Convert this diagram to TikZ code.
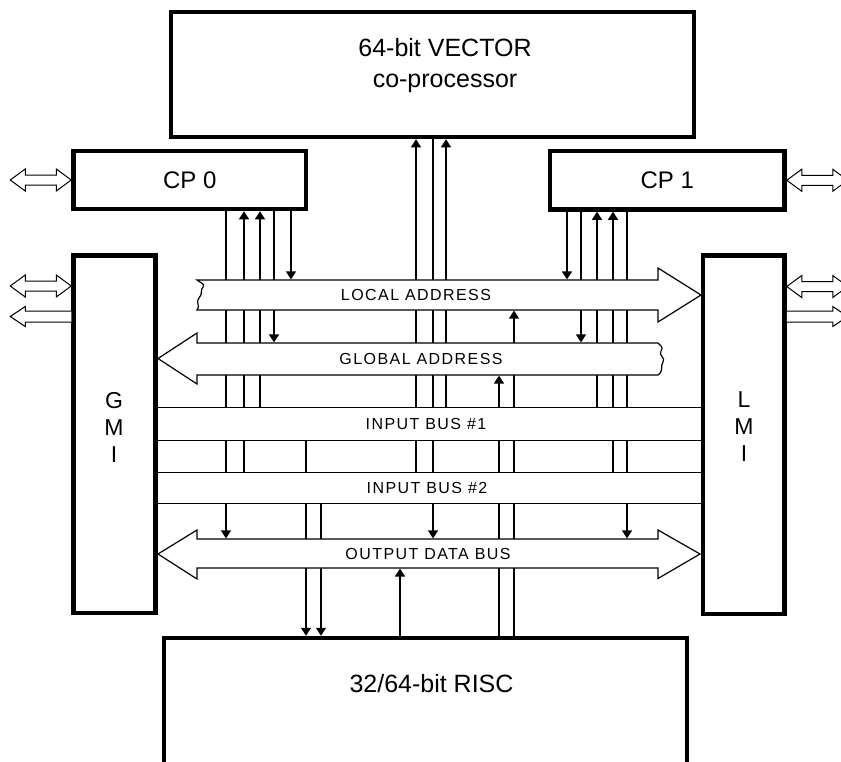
\documentclass[tikz,border=0pt]{standalone}
\usepackage{fontspec}
\setmainfont{Liberation Sans}
\usepackage{tikz}
\usetikzlibrary{arrows.meta, positioning, backgrounds}

\tikzset{
  blk/.style={draw, line width=4.5pt, inner sep=0pt, font=\fontsize{24}{28}\selectfont},
  busband/.style={inner sep=0pt, outer sep=0.6pt, font=\fontsize{16}{18}\selectfont\addfontfeature{LetterSpace=9}},
  busline/.style={line width=1.2pt, fill=white, line join=miter},
  wire/.style={line width=1.3pt},
  sig/.style={wire, -{Triangle[width=10pt,length=8pt]}},
  portline/.style={line width=1pt, fill=white},
  pics/biport/.style={code={
    \draw[portline] (0,0) -- (-15,-11) -- (-15,-5) -- (-46,-5) -- (-46,-11) -- (-61,0)
      -- (-46,11) -- (-46,5) -- (-15,5) -- (-15,11) -- cycle;}},
  pics/outport/.style={code={
    \draw[portline] (0,-5.5) -- (-46,-5.5) -- (-46,-10) -- (-61,0) -- (-46,10) -- (-46,5.5) -- (0,5.5);}},
}

\begin{document}
\begin{tikzpicture}[x=1pt, y=-1pt]
  \useasboundingbox (0,0) rectangle (841,761);

  % units
  \node[blk, minimum width=523pt, minimum height=125pt] (vector) at (432.5,74.5) {};
  \node[font=\fontsize{25}{31}\selectfont, align=center] (vectxt) at (445,66) {64-bit VECTOR\\co-processor};
  \node[blk, minimum width=232.5pt, minimum height=58pt] (cp0) at (189.75,180) {CP 0};
  \node[blk, minimum width=234.5pt, minimum height=58.5pt] (cp1) at (667.25,180.25) {CP 1};
  \node[blk, minimum width=82pt, minimum height=357.5pt] (gmi) at (114.5,434.25) {};
  \node[blk, minimum width=81.5pt, minimum height=358.5pt] (lmi) at (743.75,434.75) {};
  \node[font=\fontsize{23}{27}\selectfont, align=center] (gmitxt) at (114,427) {G\\M\\I};
  \node[font=\fontsize{23}{27}\selectfont, align=center] (lmitxt) at (744,427) {L\\M\\I};
  \node[blk, minimum width=523pt, minimum height=142pt] (risc) at (425.5,709) {};
  \node[font=\fontsize{25}{30}\selectfont, anchor=base] (risctxt) at (431.5,692) {32/64-bit RISC};

  % buses
  \node[busband, minimum height=30pt] (loc) at (416,295) {LOCAL ADDRESS};
  \node[busband, minimum height=32pt] (glob) at (421,359) {GLOBAL ADDRESS};
  \node[busband, minimum height=32pt] (in1) at (426,424) {INPUT BUS \#1};
  \node[busband, minimum height=30pt] (in2) at (427,488) {INPUT BUS \#2};
  \node[busband, minimum height=29pt] (out) at (428,553.5) {OUTPUT DATA BUS};

  % bus taps
  \coordinate (a1) at (226,0);
  \coordinate (a2) at (244,0);
  \coordinate (a3) at (260,0);
  \coordinate (a4) at (274,0);
  \coordinate (a5) at (291,0);
  \coordinate (v1) at (416,0);
  \coordinate (v2) at (433,0);
  \coordinate (v3) at (446,0);
  \coordinate (b1) at (567,0);
  \coordinate (b2) at (581,0);
  \coordinate (b3) at (597,0);
  \coordinate (b4) at (613,0);
  \coordinate (b5) at (627,0);
  \coordinate (r1) at (306,0);
  \coordinate (r2) at (321,0);
  \coordinate (r3) at (400,0);
  \coordinate (r4) at (499,0);
  \coordinate (r5) at (514,0);

  \begin{scope}[on background layer]
    \draw[sig] (cp0.south -| a1) -- (out.north -| a1);
    \draw[sig] (in2.north -| a2) -- (cp0.south -| a2);
    \draw[sig] (in1.north -| a3) -- (cp0.south -| a3);
    \draw[sig] (cp0.south -| a4) -- (glob.north -| a4);
    \draw[sig] (cp0.south -| a5) -- (loc.north -| a5);

    \draw[sig] (in2.north -| v1) -- (vector.south -| v1);
    \draw[sig] (vector.south -| v2) -- (out.north -| v2);
    \draw[sig] (in1.north -| v3) -- (vector.south -| v3);

    \draw[sig] (cp1.south -| b1) -- (loc.north -| b1);
    \draw[sig] (cp1.south -| b2) -- (glob.north -| b2);
    \draw[sig] (in1.north -| b3) -- (cp1.south -| b3);
    \draw[sig] (in2.north -| b4) -- (cp1.south -| b4);
    \draw[sig] (cp1.south -| b5) -- (out.north -| b5);

    \draw[sig] (in1.south -| r1) -- (risc.north -| r1);
    \draw[sig] (in2.south -| r2) -- (risc.north -| r2);
    \draw[sig] (risc.north -| r3) -- (out.south -| r3);
    \draw[sig] (risc.north -| r4) -- (glob.south -| r4);
    \draw[sig] (risc.north -| r5) -- (loc.south -| r5);

    % bus outlines
    \draw[busline] (197,280) -- (658,280) -- (658,268) -- (701,295) -- (658,322) -- (658,310) -- (197,310)
      .. controls (201,306) and (195,302) .. (199,298)
      .. controls (203,294) and (200,290) .. (203,287)
      .. controls (206,284) and (199,282) .. (197,280) -- cycle;
    \draw[busline] (658,343) -- (197,343) -- (197,333) -- (158,358.5) -- (197,384) -- (197,375) -- (658,375)
      .. controls (664,371) and (660,366) .. (663,362)
      .. controls (666,358) and (658,355) .. (661,351)
      .. controls (664,347) and (660,345) .. (658,343) -- cycle;
    \fill[white] (gmi.east |- in1.north) rectangle (lmi.west |- in1.south);
    \draw[wire] (gmi.east |- in1.north) -- (lmi.west |- in1.north)
      (gmi.east |- in1.south) -- (lmi.west |- in1.south);
    \fill[white] (gmi.east |- in2.north) rectangle (lmi.west |- in2.south);
    \draw[wire] (gmi.east |- in2.north) -- (lmi.west |- in2.north)
      (gmi.east |- in2.south) -- (lmi.west |- in2.south);
    \draw[busline] (197,539) -- (658,539) -- (658,530) -- (700,554) -- (658,578.5) -- (658,568)
      -- (197,568) -- (197,579) -- (158,554) -- (197,530) -- cycle;
  \end{scope}

  % external ports
  \pic at (cp0.west) {biport};
  \pic[xscale=-1] at (cp1.east) {biport};
  \pic at ([yshift=-32.75pt]gmi.north west) {biport};
  \pic at ([yshift=-63.25pt]gmi.north west) {outport};
  \pic[xscale=-1] at ([yshift=-33.25pt]lmi.north east) {biport};
  \pic[xscale=-1] at ([yshift=-63.25pt]lmi.north east) {outport};
\end{tikzpicture}
\end{document}
